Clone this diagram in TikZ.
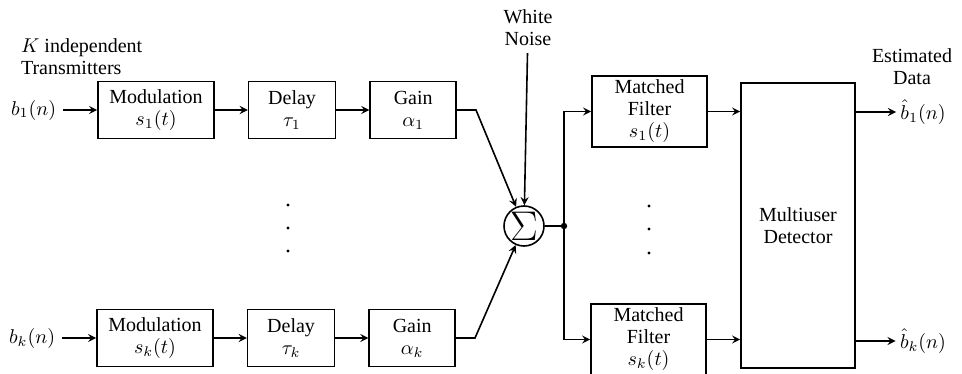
\documentclass[tikz,border=0pt]{standalone}
\usepackage{fontspec}
\setmainfont{Liberation Serif}
\usetikzlibrary{arrows, positioning}
\tikzstyle{block} = [rectangle, thick, minimum height=28.5pt, inner sep=1pt, align=center, draw=black, font=\fontsize{10}{11}\selectfont]
\tikzstyle{arrow} = [thick,->,>=stealth]
\tikzstyle{caption} = [align=center, font=\fontsize{10}{11}\selectfont]
\begin{document}
\begin{tikzpicture}[x=0.5pt, y=-0.5pt, node distance=16.5pt]
	\useasboundingbox (0,0) rectangle (962,374);
	% transmitters
	\node (Title) [caption, align=left, anchor=west] at (14,57) {$K$ independent\\Transmitters};
	\node (ModA) [block, minimum width=58pt] at (156,110) {Modulation\\$s_1(t)$};
	\node (DelayA) [block, minimum width=43.5pt, right = of ModA] {Delay\\$\tau_1$};
	\node (GainA) [block, minimum width=43pt, right = of DelayA] {Gain\\$\alpha_1$};
	\node (InA) [left = 17pt of ModA] {$b_1(n)$};
	\node (ModK) [block, minimum width=58pt] at (155,338) {Modulation\\$s_k(t)$};
	\node (DelayK) [block, minimum width=43.5pt, right = of ModK] {Delay\\$\tau_k$};
	\node (GainK) [block, minimum width=43pt, right = of DelayK] {Gain\\$\alpha_k$};
	\node (InK) [left = 17pt of ModK] {$b_k(n)$};
	\foreach \y in {205,228,251} \fill (288,\y) circle (0.8pt);
	% channel
	\node (Sum) [draw, circle, thick, minimum size=20pt, inner sep=0pt] at (524,226) {\huge$\Sigma$};
	\node (Noise) [caption] at (528,28) {White\\Noise};
	\coordinate (Split) at (564,226);
	% receiver
	\node (FilterA) [block, minimum width=57.5pt, minimum height=35.5pt] at (649.5,111.5) {Matched\\Filter\\$s_1(t)$};
	\node (FilterK) [block, minimum width=57.5pt, minimum height=35.5pt] at (648.5,339.5) {Matched\\Filter\\$s_k(t)$};
	\foreach \y in {206,229,253} \fill (649,\y) circle (0.8pt);
	\node (Detector) [block, minimum width=57pt, minimum height=142.5pt] at (798,225.5) {Multiuser\\Detector};
	\node (OutA) [inner sep=2pt] at (923,112) {$\hat{b}_1(n)$};
	\node (OutK) [inner sep=2pt] at (923,341) {$\hat{b}_k(n)$};
	\node (Estimate) [caption] at (912,67) {Estimated\\Data};
	% connections
	\draw [arrow] (InA) -- (ModA);
	\draw [arrow] (ModA) -- (DelayA);
	\draw [arrow] (DelayA) -- (GainA);
	\draw [arrow] (InK) -- (ModK);
	\draw [arrow] (ModK) -- (DelayK);
	\draw [arrow] (DelayK) -- (GainK);
	\draw [arrow] (GainA.east) -- ++(19,0) -- (Sum);
	\draw [arrow] (GainK.east) -- ++(19,0) -- (Sum);
	\draw [arrow] (Noise) -- (Sum);
	\draw [thick] (Sum) -- (Split);
	\fill (Split) circle (1.6pt);
	\draw [arrow] (Split) |- (FilterA.west);
	\draw [arrow] (Split) |- (FilterK.west);
	\draw [arrow] (FilterA.east) -- (Detector.west |- FilterA.east);
	\draw [arrow] (FilterK.east) -- (Detector.west |- FilterK.east);
	\draw [arrow] (Detector.east |- OutA) -- (OutA);
	\draw [arrow] (Detector.east |- OutK) -- (OutK);
\end{tikzpicture}
\end{document}
